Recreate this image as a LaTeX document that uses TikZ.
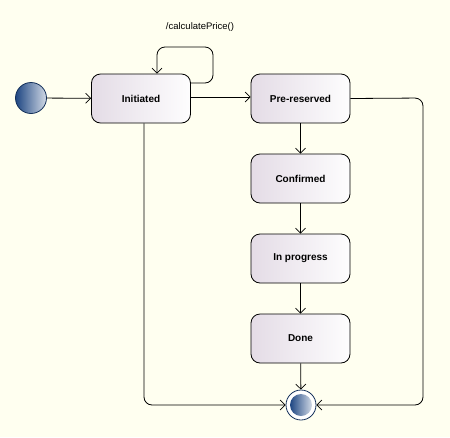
\documentclass[tikz,border=0pt]{standalone}
\usepackage{fontspec}
\setmainfont{Liberation Sans}
\usetikzlibrary{arrows.meta}
\definecolor{bg}{RGB}{255,255,240}
\definecolor{boxc}{RGB}{228,220,230}
\definecolor{ballc}{RGB}{30,70,130}
\begin{document}
\begin{tikzpicture}[x=1pt,y=-1pt,line width=0.8pt,
  st/.style={draw=black,rounded corners=9pt,minimum width=99pt,minimum height=49pt,
    left color=boxc,right color=white!95!boxc,font=\bfseries\fontsize{10}{12}\selectfont},
  ar/.style={draw=black,-{Straight Barb[length=5pt,width=10pt,line width=0.7pt]}},
  ln/.style={rounded corners=8pt}]
\useasboundingbox[fill=bg] (0,0) rectangle (450,437);
\node[circle,minimum size=31pt,inner sep=0,draw=ballc!70!black,left color=ballc,right color=ballc!20!white] (init) at (31,98) {};
\node[st] (a) at (141,98.5) {Initiated};
\node[st] (b) at (300.5,98.5) {Pre-reserved};
\node[st] (c) at (300.5,178.5) {Confirmed};
\node[st] (d) at (300.5,258.5) {In progress};
\node[st] (e) at (300.5,338.5) {Done};
\node[circle,minimum size=30pt,inner sep=0,draw=ballc!70!black,fill=white] (fin) at (301,405) {};
\node[circle,minimum size=22pt,inner sep=0,left color=ballc,right color=ballc!20!white] at (fin) {};
\node[font=\fontsize{9.5}{11}\selectfont] (lbl) at (200,27) {/calculatePrice()};
\draw[ar] (init) -- (a);
\draw[ar] (a.east |- 0,97) -- (b.west |- 0,97);
\draw[ar] (b) -- (c);
\draw[ar] (c) -- (d);
\draw[ar] (d) -- (e);
\draw[ar] (e) -- (fin);
\coordinate (l1) at (213,47);
\draw[ar,ln] (a.east |- 0,83) -| (l1) -| (a.north -| 157,0);
\draw[ar,ln] (a.south -| 144,0) |- (fin.west);
\coordinate (r1) at (423,98);
\draw[ar,ln] (b.east) -- (r1) |- (fin.east);
\end{tikzpicture}
\end{document}
